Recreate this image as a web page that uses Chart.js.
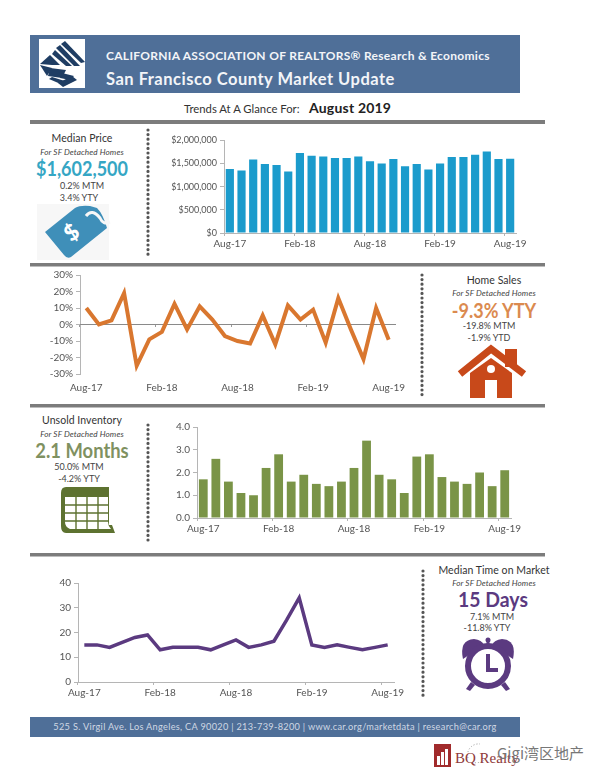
<!DOCTYPE html>
<html>
<head>
<meta charset="utf-8">
<script src="https://cdn.jsdelivr.net/npm/chart.js@4"></script>
<style>
    html, body { margin: 0; padding: 0; background: #fff; }
    #page { position: relative; width: 600px; height: 776px; overflow: hidden; font-family: Lato, sans-serif; color: #444; }
    #page svg { position: absolute; left: 0; top: 0; }
    canvas { position: absolute; }
    .t { position: absolute; white-space: nowrap; transform: translate(-50%, -50%); line-height: 1; }
    .l { position: absolute; white-space: nowrap; transform: translateY(-50%); line-height: 1; }
    .title { font-size: 10.5px; font-weight: 400; letter-spacing: .05px; color: #333; }
    .sub { font-size: 8.2px; font-style: italic; font-weight: 400; letter-spacing: .1px; color: #444; }
    .big { font-weight: 700; font-size: 20px; }
    .note { font-size: 9px; font-weight: 400; color: #444; }
</style>
</head>
<body>
<div id="page">
    <svg width="600" height="776" viewBox="0 0 600 776">
        <rect x="30" y="35" width="490" height="58" fill="#4f6f98"/>
        <rect x="39" y="39" width="46" height="49" fill="#fff"/>
        <g fill="#1f3d63">
            <polygon points="61,44 65,41 85,62 81,63"/>
            <polygon points="56,48 60,45 80,66 74,66"/>
            <polygon points="52,54 55,50 72,66 66,66"/>
            <polygon points="40,64 50,55 60,65 52,65"/>
            <polygon points="40,65 52,68 47,76"/>
            <polygon points="50,68 66,70 62,78 48,76"/>
            <polygon points="52,77 68,82 63,85 49,79"/>
            <polygon points="62,73 74,76 70,80 60,78"/>
            <polygon points="58,83 72,76 77,80 63,87"/>
        </g>
        <rect x="30" y="120" width="515" height="4" fill="#7c7c7c"/>
        <rect x="30" y="263" width="515" height="3.5" fill="#7c7c7c"/>
        <rect x="30" y="404" width="515" height="3.5" fill="#7c7c7c"/>
        <rect x="30" y="553" width="515" height="3.5" fill="#7c7c7c"/>
        <rect x="30" y="717" width="490" height="20" fill="#4f6f98"/>
        <g stroke="#555" stroke-width="3.2" stroke-linecap="round" stroke-dasharray="0 4.6" fill="none">
            <line x1="148" y1="130" x2="148" y2="257"/>
            <line x1="422" y1="275" x2="422" y2="398"/>
            <line x1="148" y1="425" x2="148" y2="543"/>
            <line x1="423" y1="571" x2="423" y2="697"/>
        </g>
        <!-- price tag -->
        <rect x="37" y="204" width="72" height="56" fill="#f7f7f7"/>
        <path d="M45 232 L75 208 Q80 205 90 206 L97 208 Q103 214 107 228 L71 257 Q67 259 64 255 Z" fill="#3f8fb9"/>
        <path d="M86 216 Q92 208 100 218 Q103 225 110 222" fill="none" stroke="#f7f7f7" stroke-width="3"/>
        <text x="72" y="240" font-size="22" font-weight="900" font-family="Lato" fill="#fff" text-anchor="middle" transform="rotate(-38 72 233)">$</text>
        <!-- house -->
        <rect x="505" y="349" width="12" height="18" fill="#c8491a"/>
        <polyline points="460,374 491,349 524,374" fill="none" stroke="#c8491a" stroke-width="7"/>
        <polygon points="470,398 470,373 491,358 512,373 512,398" fill="#c8491a"/>
        <circle cx="491" cy="369" r="4" fill="#fff"/>
        <rect x="485" y="380" width="12" height="18" fill="#fff"/>
        <!-- calendar -->
        <path d="M66 487 H109 V525 H112 L115 533 H66 Q61 533 61 526 V493 Q61 487 66 487 Z" fill="#5d7230"/>
        <path d="M65 497 H108 V522 Q108 526 111 529 H70 Q65 527 65 522 Z" fill="#fff"/>
        <g stroke="#5d7230" stroke-width="1.4">
            <line x1="76" y1="497" x2="76" y2="529"/>
            <line x1="87" y1="497" x2="87" y2="529"/>
            <line x1="98" y1="497" x2="98" y2="529"/>
            <line x1="65" y1="505" x2="108" y2="505"/>
            <line x1="65" y1="513" x2="108" y2="513"/>
            <line x1="65" y1="521" x2="108" y2="521"/>
        </g>
        <!-- clock -->
        <g fill="#5b3a80">
            <path d="M463 659 Q459 640 474 639 Q482 640 484 645 Z"/>
            <path d="M513 659 Q517 640 502 639 Q494 640 492 645 Z"/>
            <rect x="486.500" y="640" width="3" height="6"/>
            <circle cx="488" cy="640" r="2.500"/>
            <polygon points="471,682 475,685 470,691 466,689"/>
            <polygon points="505,682 501,685 506,691 510,689"/>
        </g>
        <circle cx="488" cy="666" r="20" fill="#fff" stroke="#5b3a80" stroke-width="6"/>
        <polyline points="488,654 488,670 498,670" fill="none" stroke="#5b3a80" stroke-width="4"/>
        <!-- watermark logo -->
        <rect x="434" y="744" width="17" height="23" fill="#a12b2c"/>
        <g fill="#fff">
            <rect x="437" y="756" width="3" height="9"/>
            <rect x="441" y="752" width="3" height="13"/>
            <rect x="445" y="749" width="3" height="16"/>
        </g>
        <g fill="none" stroke="#999" stroke-width="1" stroke-dasharray="1 2">
            <path d="M468 758 A11 11 0 0 1 480 744"/>
            <path d="M472 762 A13 13 0 0 0 487 757"/>
        </g>
    </svg>

    <div class="l" style="left:106px;top:56px;font-size:12px;font-weight:700;color:#f3f5f8;letter-spacing:.3px">CALIFORNIA ASSOCIATION OF REALTORS® Research &amp; Economics</div>
    <div class="l" style="left:106px;top:79px;font-size:16.5px;font-weight:700;color:#f3f5f8;letter-spacing:.5px">San Francisco County Market Update</div>
    <div class="l" style="left:184px;top:109px;font-size:11.3px;font-weight:400;color:#333">Trends At A Glance For:</div>
    <div class="l" style="left:309px;top:108px;font-size:14px;font-weight:700;color:#222;letter-spacing:.2px">August 2019</div>

    <div class="t title" style="left:82px;top:138px">Median Price</div>
    <div class="t sub" style="left:82px;top:152px">For SF Detached Homes</div>
    <div class="t big" style="left:82px;top:168px;color:#35a6c4;transform:translate(-50%,-50%) scaleX(.9)">$1,602,500</div>
    <div class="t note" style="left:82px;top:185px">0.2% MTM</div>
    <div class="t note" style="left:79px;top:197px">3.4% YTY</div>

    <div class="t title" style="left:494px;top:280px">Home Sales</div>
    <div class="t sub" style="left:494px;top:293px">For SF Detached Homes</div>
    <div class="t big" style="left:494px;top:310px;color:#db8a4f;transform:translate(-50%,-50%) scaleX(.9)">-9.3% YTY</div>
    <div class="t note" style="left:489px;top:325px">-19.8% MTM</div>
    <div class="t note" style="left:489px;top:337px">-1.9% YTD</div>

    <div class="t title" style="left:82px;top:420px">Unsold Inventory</div>
    <div class="t sub" style="left:82px;top:434px">For SF Detached Homes</div>
    <div class="t big" style="left:82px;top:450px;color:#7f9161;transform:translate(-50%,-50%) scaleX(.92)">2.1 Months</div>
    <div class="t note" style="left:79px;top:466px">50.0% MTM</div>
    <div class="t note" style="left:79px;top:478px">-4.2% YTY</div>

    <div class="t title" style="left:494px;top:570px">Median Time on Market</div>
    <div class="t sub" style="left:494px;top:583px">For SF Detached Homes</div>
    <div class="t big" style="left:493px;top:599px;color:#5b3a80;transform:translate(-50%,-50%) scaleX(.97)">15 Days</div>
    <div class="t note" style="left:492px;top:616px">7.1% MTM</div>
    <div class="t note" style="left:487px;top:627px">-11.8% YTY</div>

    <div class="t" style="left:275px;top:727px;font-size:9.2px;color:#cfd8e4;letter-spacing:.3px">525 S. Virgil Ave. Los Angeles, CA 90020 | 213-739-8200 | www.car.org/marketdata | research@car.org</div>
    <div class="l" style="left:455px;top:758px;font-family:'Liberation Serif',serif;font-size:15px;color:#8f3a3a">BQ Realty</div>
    <div class="l" style="left:497px;top:752px;font-family:'Noto Sans CJK SC',sans-serif;font-size:15px;color:#777">Gigi湾区地产</div>

    <canvas id="priceChart"></canvas>
    <canvas id="salesChart"></canvas>
    <canvas id="inventoryChart"></canvas>
    <canvas id="timeChart"></canvas>
</div>

<script>
    const months = [
        "Aug-17", "Sep-17", "Oct-17", "Nov-17", "Dec-17", "Jan-18", "Feb-18", "Mar-18", "Apr-18",
        "May-18", "Jun-18", "Jul-18", "Aug-18", "Sep-18", "Oct-18", "Nov-18", "Dec-18", "Jan-19",
        "Feb-19", "Mar-19", "Apr-19", "May-19", "Jun-19", "Jul-19", "Aug-19"
    ];
    const medianPrice = [
        1380000, 1350000, 1590000, 1490000, 1470000, 1330000, 1730000, 1670000, 1650000,
        1620000, 1620000, 1650000, 1550000, 1500000, 1600000, 1440000, 1490000, 1370000,
        1500000, 1640000, 1640000, 1690000, 1760000, 1600000, 1602500
    ];
    const homeSalesYty = [
        10, 0, 2.5, 19, -25, -9, -4.5, 12.5, -3,
        11, 3, -7, -10, -11.5, 5.5, -12, 11.5, 3,
        9, -11, 16, -3, -21, 10, -9.3
    ];
    const unsoldInventory = [
        1.7, 2.6, 1.6, 1.1, 1.0, 2.2, 2.8, 1.6, 1.9,
        1.5, 1.4, 1.6, 2.2, 3.4, 1.9, 1.7, 1.1, 2.7,
        2.8, 1.8, 1.6, 1.5, 2.0, 1.4, 2.1
    ];
    const timeOnMarket = [
        15, 15, 14, 16, 18, 19, 13, 14, 14,
        14, 13, 15, 17, 14, 15, 16.5, 25, 34,
        15, 14, 15, 14, 13, 14, 15
    ];

    const tickFont = { family: "Lato", size: 10 };
    const tickColor = "#555";
    const axisColor = "#b5b5b5";

    function everySixth(value, index) {
        return index % 6 === 0 ? months[index] : "";
    }

    // plot is the wanted chart area on the page, the canvas is placed around it
    function drawChart(id, plot, type, values, dataset, yTicks, zeroLine) {
        const room = { left: 62, right: 22, top: 8, bottom: 22 };
        const canvas = document.getElementById(id);
        canvas.width = plot.right - plot.left + room.left + room.right;
        canvas.height = plot.bottom - plot.top + room.top + room.bottom;
        canvas.style.left = (plot.left - room.left) + "px";
        canvas.style.top = (plot.top - room.top) + "px";

        const scales = {
            x: {
                offset: true,
                border: { display: !zeroLine, color: axisColor },
                grid: {
                    display: !zeroLine,
                    offset: true,
                    drawOnChartArea: false,
                    tickLength: 3,
                    tickColor: (ctx) => ctx.index % 6 === 0 ? axisColor : "transparent",
                },
                ticks: {
                    autoSkip: false, maxRotation: 0, minRotation: 0, padding: zeroLine ? 5 : 2,
                    color: tickColor, font: tickFont, callback: everySixth,
                },
                afterFit: (scale) => { scale.height = room.bottom; },
            },
            y: {
                min: yTicks.min,
                max: yTicks.max,
                border: { color: axisColor },
                grid: { drawOnChartArea: false, tickLength: 4, tickColor: axisColor },
                ticks: {
                    stepSize: yTicks.step, padding: 3, color: tickColor,
                    font: { family: "Lato", size: yTicks.size || 10 },
                    callback: yTicks.format,
                },
                afterFit: (scale) => { scale.width = room.left; },
            },
        };

        if (zeroLine) {
            scales.zero = {
                axis: "x",
                type: "category",
                labels: months,
                offset: true,
                position: { y: 0 },
                border: { color: "#8a8a8a" },
                grid: {
                    offset: true,
                    drawOnChartArea: false,
                    tickLength: 2,
                    tickColor: (ctx) => ctx.index % 6 === 0 ? "#9a9a9a" : "transparent",
                },
                ticks: { display: false },
            };
        }

        new Chart(canvas, {
            type: type,
            data: { labels: months, datasets: [Object.assign({ data: values }, dataset)] },
            options: {
                responsive: false,
                animation: false,
                layout: { padding: { top: room.top, right: room.right } },
                plugins: { legend: { display: false }, tooltip: { enabled: false } },
                scales: scales,
            },
        });
    }

    drawChart("priceChart", { left: 224, right: 516, top: 140, bottom: 233 }, "bar", medianPrice,
        { backgroundColor: "#1b9bcc", barPercentage: 0.7, categoryPercentage: 1 },
        { min: 0, max: 2000000, step: 500000, size: 9, format: (v) => "$" + v.toLocaleString("en-US") });

    drawChart("salesChart", { left: 80, right: 395, top: 274, bottom: 374 }, "line", homeSalesYty,
        { borderColor: "#d9772f", borderWidth: 4, pointRadius: 0, tension: 0, borderJoinStyle: "miter" },
        { min: -30, max: 30, step: 10, format: (v) => v + "%" }, true);

    drawChart("inventoryChart", { left: 197, right: 511, top: 426, bottom: 518 }, "bar", unsoldInventory,
        { backgroundColor: "#7a9447", barPercentage: 0.7, categoryPercentage: 1 },
        { min: 0, max: 4, step: 1, format: (v) => v.toFixed(1) });

    drawChart("timeChart", { left: 78, right: 394, top: 582, bottom: 682 }, "line", timeOnMarket,
        { borderColor: "#5b3a80", borderWidth: 3.5, pointRadius: 0, tension: 0, borderJoinStyle: "miter" },
        { min: 0, max: 40, step: 10, format: (v) => v });
</script>
</body>
</html>
